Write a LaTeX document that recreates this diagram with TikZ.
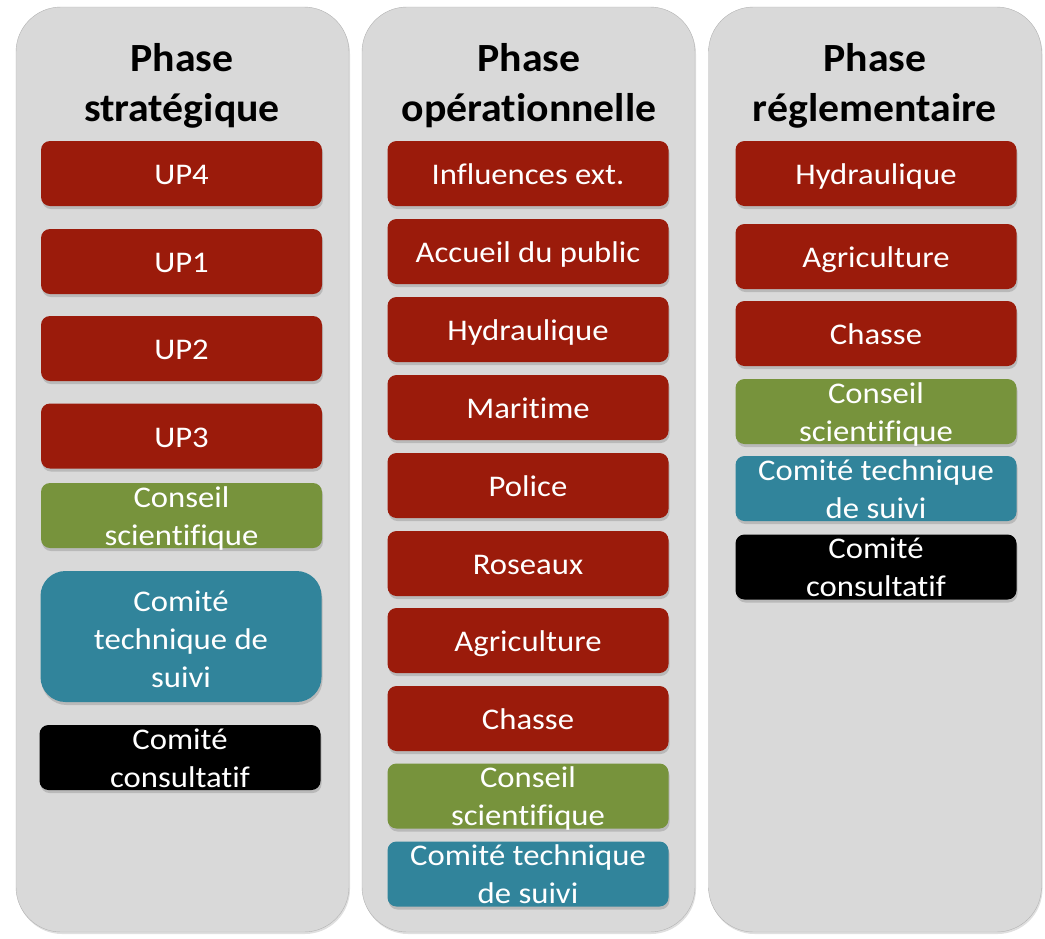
\documentclass[tikz,border=0pt]{standalone}
\usepackage{fontspec}
\setmainfont{Carlito}[Ligatures=NoCommon,FakeStretch=1.045]
\newfontfamily\boitefont{Carlito}[Ligatures=NoCommon,FakeStretch=1.09]
\usetikzlibrary{positioning,shadows}

\definecolor{rouge}{RGB}{155,27,11}
\definecolor{vert}{RGB}{119,147,60}
\definecolor{bleu}{RGB}{49,132,155}
\definecolor{fond}{RGB}{217,217,217}

\begin{document}
\begin{tikzpicture}[x=1pt,y=-1pt,
    phase/.style={rectangle,rounded corners=45pt,fill=fond,draw=black!30,
		minimum width=333pt,minimum height=925pt,inner sep=0pt,
		drop shadow={shadow xshift=1pt,shadow yshift=-2pt,opacity=0.25}},
    titre/.style={align=center,inner sep=0pt,
		font=\fontsize{40}{50}\selectfont\bfseries},
    boite/.style={rectangle,rounded corners=9pt,minimum width=281pt,
		minimum height=65pt,inner sep=0pt,align=center,text=white,
		font=\boitefont\fontsize{30}{38}\selectfont,text height=22pt,text depth=0pt,
		drop shadow={shadow xshift=1pt,shadow yshift=-3pt,opacity=0.35}},
    deux/.style={text height=59pt},
    rouge/.style={boite,fill=rouge},
    vert/.style={boite,deux,fill=vert},
    bleu/.style={boite,deux,fill=bleu},
    noir/.style={boite,deux,fill=black}
]
    \useasboundingbox (0,0) rectangle (1045,938);

    % les trois colonnes
    \node (col1) [phase] at (182.5,469.5) {};
    \node (col2) [phase] at (528.5,469.5) {};
    \node (col3) [phase] at (875,469.5) {};

    \node (t1) [titre] at (182,86) {Phase\\strat\'egique};
    \node (t2) [titre] at (529,86) {Phase\\op\'erationnelle};
    \node (t3) [titre] at (875,86) {Phase\\r\'eglementaire};

    % phase strategique
    \node (s1) [rouge] at (181.5,173.5) {UP4};
    \node (s2) [rouge] at (181.5,261.5) {UP1};
    \node (s3) [rouge] at (181.5,348.5) {UP2};
    \node (s4) [rouge] at (181.5,436) {UP3};
    \node (s5) [vert] at (181.5,515.5) {Conseil\\scientifique};
    \node (s6) [bleu,rounded corners=25pt,minimum height=131pt,text height=101pt]
	     at (181,636.5) {Comit\'e\\technique de\\suivi};
    \node (s7) [noir] at (180,757.5) {Comit\'e\\consultatif};

    % phase operationnelle
    \node (o1) [rouge] at (528,173.5) {Influences ext.};
    \node (o2) [rouge] at (528,251.5) {Accueil du public};
    \node (o3) [rouge] at (528,329.5) {Hydraulique};
    \node (o4) [rouge] at (528,407.5) {Maritime};
    \node (o5) [rouge] at (528,485.5) {Police};
    \node (o6) [rouge] at (528,563.5) {Roseaux};
    \node (o7) [rouge] at (528,640.5) {Agriculture};
    \node (o8) [rouge] at (528,718.5) {Chasse};
    \node (o9) [vert] at (528,796) {Conseil\\scientifique};
    \node (o10) [bleu] at (528,874) {Comit\'e technique\\de suivi};

    % phase reglementaire
    \node (r1) [rouge] at (876,173.5) {Hydraulique};
    \node (r2) [rouge] at (876,256.5) {Agriculture};
    \node (r3) [rouge] at (876,333.5) {Chasse};
    \node (r4) [vert] at (876,411.5) {Conseil\\scientifique};
    \node (r5) [bleu] at (876,488.5) {Comit\'e technique\\de suivi};
    \node (r6) [noir] at (876,567) {Comit\'e\\consultatif};
\end{tikzpicture}
\end{document}
